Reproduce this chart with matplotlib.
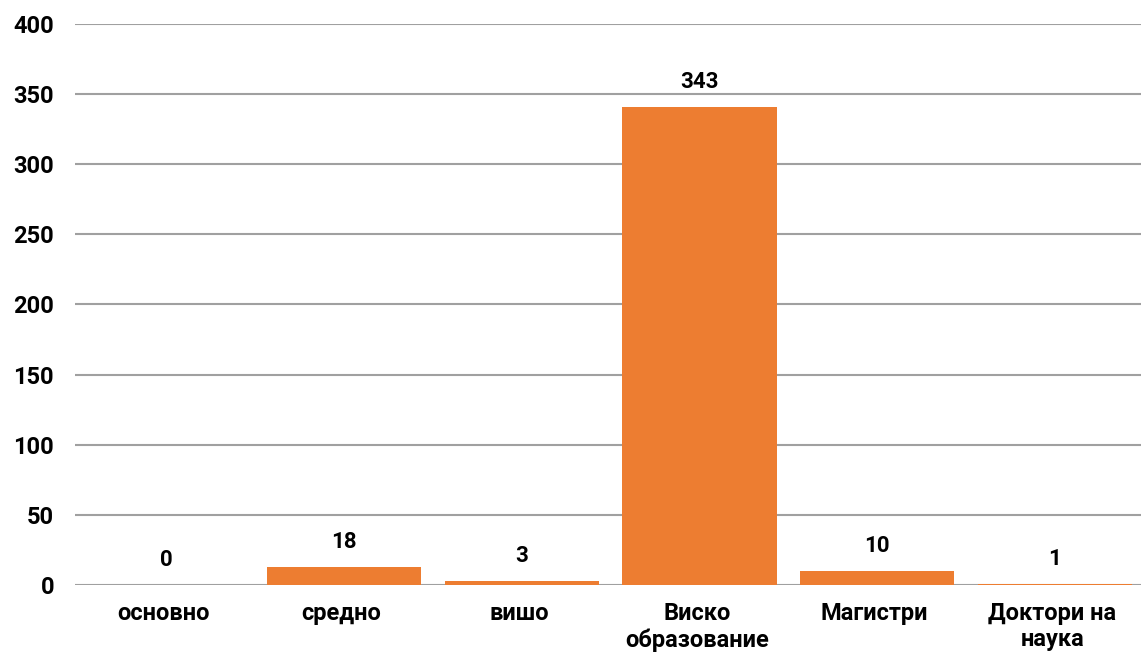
import matplotlib.pyplot as plt

# categorias e valores
categorias = ["основно", "средно", "вишо", "Виско\nобразование", "Магистри", "Доктори на\nнаука"]
alturas = [0, 13, 3, 341, 10, 1]          # altura das barras
rotulos = ["0", "18", "3", "343", "10", "1"]  # texto por cima das barras

plt.rcParams['font.family'] = ['Roboto', 'DejaVu Sans']
plt.rcParams['font.weight'] = 'bold'

fig = plt.figure(figsize=(11.41, 6.55), dpi=100)
ax = fig.add_axes([0.0657, 0.1069, 0.9343, 0.8565])

x = list(range(len(categorias)))
ax.bar([i + 0.015 for i in x], alturas, width=0.87, color="#ED7D31", zorder=3)

for i in x:
    ax.annotate(rotulos[i], (i + 0.015, alturas[i]), xytext=(0, 10), textcoords="offset points",
                ha="center", va="bottom", fontsize=16, fontweight="bold")

ax.set_xlim(-0.5, 5.5)
ax.set_ylim(0, 400)
ax.set_yticks(range(0, 401, 50))
ax.set_xticks(x)
ax.set_xticklabels(categorias, fontsize=17, fontweight="bold", linespacing=1.2)
for t in ax.get_yticklabels():
    t.set_fontweight("bold")
ax.tick_params(axis="y", labelsize=17, length=0, pad=15)
ax.tick_params(axis="x", length=0, pad=12)
ax.grid(axis="y", color="#a0a0a0", linewidth=1.5, zorder=0)
for s in ax.spines.values():
    s.set_visible(False)

fig.savefig("out.png", dpi=100)
